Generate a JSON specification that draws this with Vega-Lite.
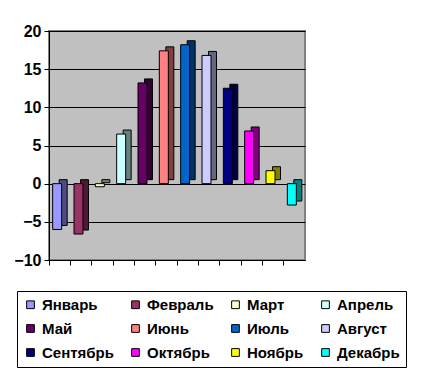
{
  "$schema": "https://vega.github.io/schema/vega-lite/v6.json",
  "width": 256,
  "height": 229,
  "autosize": {"type": "none"},
  "padding": {"left": 49, "top": 31, "right": 134, "bottom": 115},
  "background": "white",
  "config": {
    "font": "Liberation Sans",
    "view": {"fill": "#C0C0C0", "stroke": "#808080", "strokeWidth": 2}
  },
  "data": {
    "values": [
      {"month": "Январь", "t": -6.0},
      {"month": "Февраль", "t": -6.6},
      {"month": "Март", "t": -0.4},
      {"month": "Апрель", "t": 6.5},
      {"month": "Май", "t": 13.2},
      {"month": "Июнь", "t": 17.4},
      {"month": "Июль", "t": 18.2},
      {"month": "Август", "t": 16.8},
      {"month": "Сентябрь", "t": 12.5},
      {"month": "Октябрь", "t": 6.9},
      {"month": "Ноябрь", "t": 1.7},
      {"month": "Декабрь", "t": -2.8}
    ]
  },
  "encoding": {
    "x": {
      "field": "month", "type": "nominal", "sort": null,
      "scale": {"paddingInner": 0, "paddingOuter": 0},
      "axis": {"labels": false, "title": null, "domain": true, "domainColor": "black", "ticks": true, "tickColor": "black", "tickSize": 5, "bandPosition": 0}
    },
    "y": {
      "field": "t", "type": "quantitative",
      "scale": {"domain": [-10, 20], "nice": false},
      "axis": {"values": [-10, -5, 0, 5, 10, 15, 20], "title": null, "grid": true, "gridColor": "black", "gridWidth": 1, "domainColor": "black", "tickColor": "black", "tickSize": 5, "labelFontSize": 16, "labelFontWeight": "bold", "labelColor": "black", "labelPadding": 3}
    }
  },
  "layer": [
    {
      "mark": {"type": "bar", "size": 8, "xOffset": 3.5, "yOffset": -4, "stroke": "black", "strokeWidth": 1},
      "encoding": {
        "color": {
          "field": "month", "type": "nominal", "sort": null,
          "scale": {"range": ["#4D4D80", "#4D1A33", "#80806B", "#668080", "#330033", "#804040", "#003366", "#666680", "#000040", "#800080", "#808000", "#008080"]},
          "legend": null
        }
      }
    },
    {
      "mark": {"type": "bar", "size": 9, "xOffset": -2.5, "stroke": "black", "strokeWidth": 1},
      "encoding": {
        "color": {
          "field": "month", "type": "nominal", "sort": null,
          "scale": {"range": ["#9999FF", "#993366", "#FFFFCC", "#CCFFFF", "#660066", "#FF8080", "#0066CC", "#CCCCFF", "#000080", "#FF00FF", "#FFFF00", "#00FFFF"]},
          "legend": {
            "title": null, "orient": "none", "legendX": -32, "legendY": 260,
            "direction": "horizontal", "columns": 4, "columnPadding": 14, "rowPadding": 8,
            "symbolType": "square", "symbolSize": 60, "symbolStrokeColor": "black", "symbolStrokeWidth": 1, "symbolOpacity": 1,
            "labelFontSize": 15, "labelFontWeight": "bold", "labelColor": "black", "labelOffset": 4,
            "strokeColor": "black", "fillColor": "white", "padding": 6
          }
        }
      }
    }
  ],
  "resolve": {"scale": {"color": "independent"}}
}
